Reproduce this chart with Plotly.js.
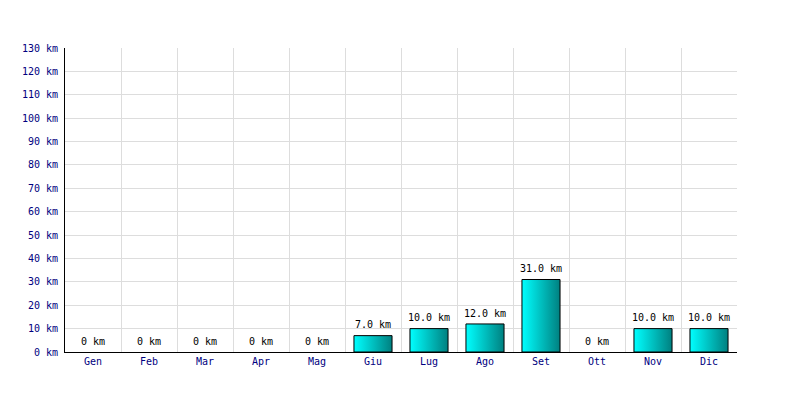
<!DOCTYPE html>
<html><head><meta charset="utf-8">
<script src="https://cdn.plot.ly/plotly-3.0.1.min.js"></script>
<style>body{margin:0;background:#fff}#c{width:800px;height:400px}</style>
</head><body><div id="c"></div>
<script>
const months = ["Gen","Feb","Mar","Apr","Mag","Giu","Lug","Ago","Set","Ott","Nov","Dic"];
const km = [0,0,0,0,0,7,10,12,31,0,10,10];
const yTicks = [0,10,20,30,40,50,60,70,80,90,100,110,120,130];

const half = 0.34;
const traces = [];
months.forEach((m,i)=>{
  const v = km[i];
  if (v > 0) {
    const c = i + 0.5;
    traces.push({
      type:'scatter', mode:'lines',
      x:[c-half,c-half,c+half,c+half,c-half],
      y:[0,v,v,0,0],
      fill:'toself',
      fillgradient:{type:'horizontal', colorscale:[[0,'#00ffff'],[1,'#008080']]},
      line:{color:'#000000',width:1},
      hoverinfo:'skip', showlegend:false
    });
  }
});
traces.push({
  type:'scatter', mode:'markers+text',
  x: months.map((m,i)=>i+0.5),
  y: km,
  marker:{size:6, color:'rgba(0,0,0,0)'},
  text: km.map(v => v===0 ? '0 km' : v.toFixed(1)+' km'),
  textposition:'top center',
  textfont:{family:'DejaVu Sans Mono', size:10, color:'#000000'},
  cliponaxis:false, showlegend:false, hoverinfo:'skip'
});

const layout = {
  width:800, height:400,
  margin:{l:65, r:63, t:48, b:48},
  paper_bgcolor:'#ffffff', plot_bgcolor:'#ffffff',
  showlegend:false,
  xaxis:{
    range:[0,12], tickmode:'array',
    tickvals: months.map((m,i)=>i+0.5), ticktext: months,
    showgrid:false, zeroline:false,
    showline:true, linecolor:'#000000', linewidth:1,
    ticks:'', fixedrange:true,
    tickfont:{family:'DejaVu Sans Mono', size:10, color:'#000080'},
    minor:{tickmode:'linear', tick0:0, dtick:1, showgrid:true, gridcolor:'#dddddd', gridwidth:1, ticks:''}
  },
  yaxis:{
    range:[0,130], tickmode:'array', tickvals: yTicks,
    ticktext: yTicks.map(v=>v+' km'),
    showgrid:true, gridcolor:'#dddddd', gridwidth:1,
    zeroline:false, showline:true, linecolor:'#000000', linewidth:1,
    ticks:'', fixedrange:true, ticklabelstandoff:4,
    tickfont:{family:'DejaVu Sans Mono', size:10, color:'#000080'}
  }
};
Plotly.newPlot('c', traces, layout, {staticPlot:true, displayModeBar:false});
</script></body></html>
